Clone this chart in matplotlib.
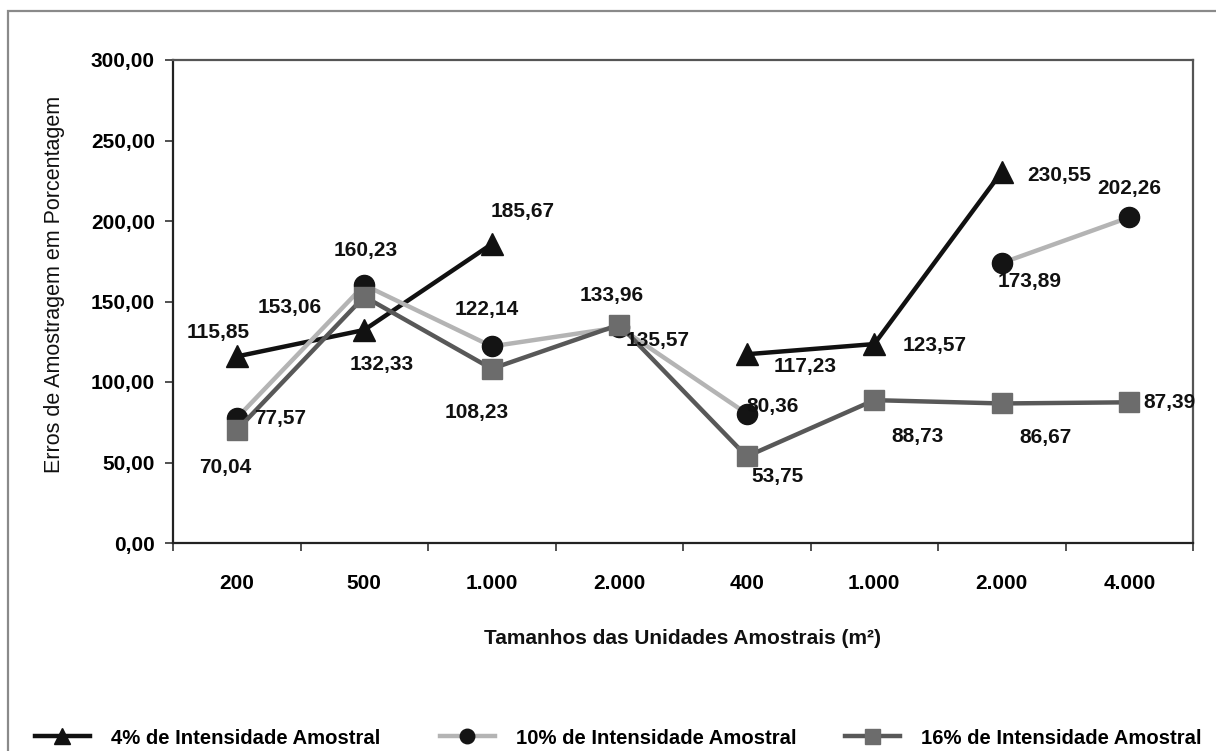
import numpy as np
import matplotlib
matplotlib.use("Agg")
import matplotlib.pyplot as plt
from matplotlib.lines import Line2D
from matplotlib.patches import Rectangle

plt.rcParams['font.family'] = ['Liberation Sans', 'DejaVu Sans']

# Sample-unit sizes (m²) along the category axis
categories = ["200", "500", "1.000", "2.000", "400", "1.000", "2.000", "4.000"]

# Sampling errors (%) for each sampling intensity; NaN = not measured
erro_4 = [115.85, 132.33, 185.67, np.nan, 117.23, 123.57, 230.55, np.nan]
erro_10 = [77.57, 160.23, 122.14, 133.96, 80.36, np.nan, 173.89, 202.26]
erro_16 = [70.04, 153.06, 108.23, 135.57, 53.75, 88.73, 86.67, 87.39]

series_names = ["4% de Intensidade Amostral",
                "10% de Intensidade Amostral",
                "16% de Intensidade Amostral"]

y_ticks = [0, 50, 100, 150, 200, 250, 300]

# Label offsets in pixels (dx right, dy down) from each marker
off_4 = [(-19, -24), (17, 35), (31, -33), None, (58, 12), (60, 1), (58, 4), None]
off_10 = [(43, 0), (1, -35), (-5, -37), (-8, -32), (26, -7), None, (28, 18), (0, -29)]
off_16 = [(-11, 37), (-75, 11), (-15, 44), (38, 16), (31, 20), (43, 36), (44, 34), (40, 0)]

FS = 15


def fmt(v):
    return f"{v:.2f}".replace(".", ",")


W, H = 1216, 751
fig = plt.figure(figsize=(W / 100, H / 100), dpi=100)
fig.patch.set_facecolor("white")

# Outer chart frame
fig.patches.append(Rectangle((8 / W, -0.01), 1.02, 1 - 11 / H + 0.01,
                             transform=fig.transFigure, fill=False,
                             edgecolor="#8a8a8a", lw=1.6, zorder=0))

ax = fig.add_axes([173 / W, 1 - 543 / H, 1020 / W, 483 / H])
x = np.arange(len(categories))

styles = [
    dict(color="#111111", marker="^", ms=16, mfc="#111111", mec="#111111"),
    dict(color="#b4b4b4", marker="o", ms=14.5, mfc="#141414", mec="#141414"),
    dict(color="#585858", marker="s", ms=15, mfc="#6c6c6c", mec="#6c6c6c"),
]
data = [erro_4, erro_10, erro_16]
offsets = [off_4, off_10, off_16]

for vals, st, offs, z in zip(data, styles, offsets, [3, 4, 5]):
    ax.plot(x, vals, lw=3.2, zorder=z, clip_on=False, **st)
    for xi, v, o in zip(x, vals, offs):
        if np.isnan(v) or o is None:
            continue
        ax.annotate(fmt(v), (xi, v), xytext=(o[0], -o[1]),
                    textcoords="offset pixels", ha="center", va="center",
                    fontsize=FS, fontweight="bold", color="#111111",
                    zorder=10, annotation_clip=False)

ax.set_xlim(-0.5, len(categories) - 0.5)
ax.set_ylim(0, 300)

# y axis
ax.set_yticks(y_ticks)
ax.set_yticklabels([fmt(v) for v in y_ticks], fontsize=FS, fontweight="bold")
ax.tick_params(axis="y", direction="out", length=6, width=1.2, pad=7,
               color="#333333")

# x axis: tick marks between categories, labels centred on categories
ax.set_xticks(np.arange(-0.5, len(categories), 1.0))
ax.set_xticklabels([])
ax.tick_params(axis="x", which="major", direction="out", length=6, width=1.2,
               color="#333333")
ax.set_xticks(x, minor=True)
ax.set_xticklabels(categories, minor=True, fontsize=FS, fontweight="bold")
ax.tick_params(axis="x", which="minor", length=0, pad=22)

for side in ["left", "bottom"]:
    ax.spines[side].set_color("#222222")
    ax.spines[side].set_linewidth(1.6)
for side in ["top", "right"]:
    ax.spines[side].set_color("#555555")
    ax.spines[side].set_linewidth(1.6)

ax.set_ylabel("Erros de Amostragem em Porcentagem", fontsize=15.5,
              color="#111111")
ax.yaxis.set_label_coords(-0.106, 0.535)
ax.text(0.5, (543 - 638) / 483, "Tamanhos das Unidades Amostrais (m²)",
        transform=ax.transAxes, ha="center", va="center", fontsize=FS,
        fontweight="bold", color="#111111")

# Legend entries placed along the bottom of the frame
leg_x = [35, 440, 845]
for st, name, lx in zip(styles, series_names, leg_x):
    st_leg = dict(st)
    st_leg["ms"] = st["ms"] * 0.72
    h = Line2D([], [], lw=3.2, **st_leg)
    fig.legend([h], [name], loc="center left",
               bbox_to_anchor=(lx / W, 1 - 738 / H), frameon=False,
               borderpad=0, borderaxespad=0, handlelength=2.7,
               handletextpad=1.05,
               prop=dict(size=14.6, weight="bold"))

fig.savefig("out.png", dpi=100, facecolor="white")
